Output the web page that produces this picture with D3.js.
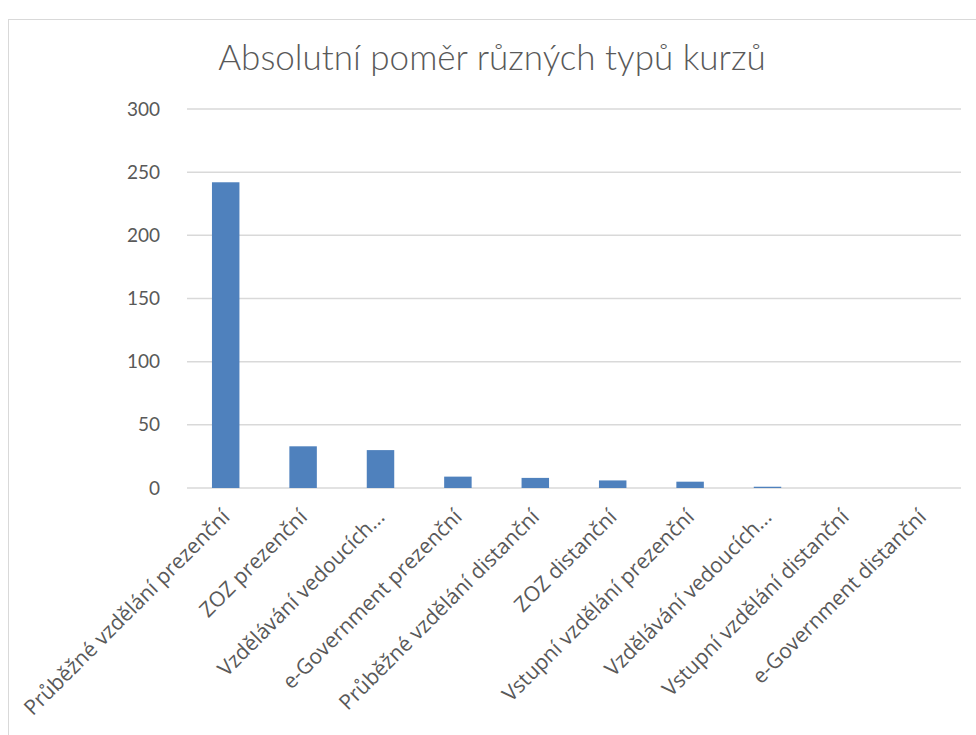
<!DOCTYPE html>
<html>
<head>
<meta charset="utf-8">
<script src="https://cdn.jsdelivr.net/npm/d3@7"></script>
<style>
  body { margin: 0; background: #fff; }
  text { font-family: "Open Sans", sans-serif; fill: #595959; }
</style>
</head>
<body>
<svg id="chart"></svg>
<script>
// data
var categories = [
  "Průběžné vzdělání prezenční",
  "ZOZ prezenční",
  "Vzdělávání vedoucích...",
  "e-Government prezenční",
  "Průběžné vzdělání distanční",
  "ZOZ distanční",
  "Vstupní vzdělání prezenční",
  "Vzdělávání vedoucích...",
  "Vstupní vzdělání distanční",
  "e-Government distanční"
];
var values = [242, 33, 30, 9, 8, 6, 5, 1, 0, 0];
var yTicks = [0, 50, 100, 150, 200, 250, 300];
var title = "Absolutní poměr různých typů kurzů";

var w = 976, h = 735;
var margin = {top: 109, right: 15, bottom: 247, left: 187};
var width = w - margin.left - margin.right;
var height = h - margin.top - margin.bottom;

var svg = d3.select("#chart").attr("width", w).attr("height", h);

// outer frame
svg.append("rect")
  .attr("x", 8.5).attr("y", 19.5)
  .attr("width", w).attr("height", h)
  .attr("fill", "none").attr("stroke", "#d9d9d9");

svg.append("text")
  .attr("x", 492).attr("y", 70)
  .attr("text-anchor", "middle")
  .style("font-family", "Lato, sans-serif")
  .style("font-size", "35px")
  .style("font-weight", 300)
  .text(title);

var x = d3.scaleBand()
  .domain(d3.range(categories.length))
  .range([0, width])
  .paddingInner(0.645)
  .paddingOuter(0.3225);

var y = d3.scaleLinear().domain([0, 300]).range([height, 0]);

var chart = svg.append("g")
  .attr("transform", "translate(" + margin.left + "," + margin.top + ")");

// gridlines
chart.selectAll(".grid")
  .data(yTicks)
  .enter().append("line")
  .attr("x1", 0).attr("x2", width)
  .attr("y1", function(d){ return y(d); })
  .attr("y2", function(d){ return y(d); })
  .attr("stroke", "#d9d9d9")
  .attr("stroke-width", 1.5);

var yAxis = chart.append("g")
  .call(d3.axisLeft(y).tickValues(yTicks).tickSize(0).tickPadding(27));
yAxis.select(".domain").remove();
yAxis.selectAll("text")
  .style("font-family", "Lato, sans-serif")
  .style("font-size", "19px")
  .attr("fill", "#595959");

chart.selectAll(".bar")
  .data(values)
  .enter().append("rect")
  .classed("bar", true)
  .attr("x", function(d, i){ return x(i); })
  .attr("y", function(d){ return y(d); })
  .attr("width", x.bandwidth())
  .attr("height", function(d){ return height - y(d); })
  .attr("fill", "#4f81bd");

var xAxis = chart.append("g")
  .attr("transform", "translate(0," + height + ")")
  .call(d3.axisBottom(x).tickSize(0).tickFormat(function(i){ return categories[i]; }));
xAxis.select(".domain").remove();
xAxis.selectAll("text")
  .style("font-size", "21px")
  .attr("fill", "#595959")
  .attr("text-anchor", "end")
  .attr("dy", "0.35em")
  .attr("transform", "translate(-2,23) rotate(-45)");
</script>
</body>
</html>
